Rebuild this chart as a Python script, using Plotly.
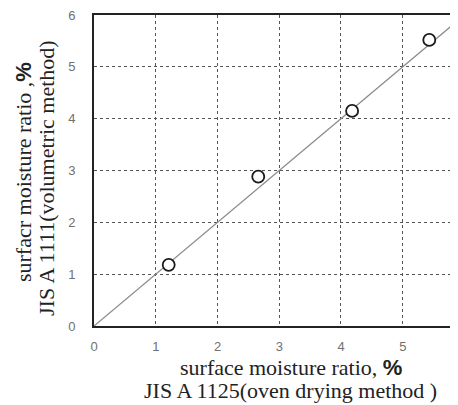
import plotly.graph_objects as go

# Data
oven_drying = [1.21, 2.66, 4.18, 5.43]       # JIS A 1125 (x)
volumetric = [1.18, 2.88, 4.15, 5.52]        # JIS A 1111 (y)
line_x = [0, 6]
line_y = [0, 6]
tick_vals = [0, 1, 2, 3, 4, 5, 6]

SERIF = "Liberation Serif, Times New Roman, serif"
SANS = "Liberation Sans, Arial, sans-serif"

fig = go.Figure()
fig.add_trace(go.Scatter(x=line_x, y=line_y, mode="lines",
                         line=dict(color="#8c8c8c", width=1.3),
                         showlegend=False, hoverinfo="skip"))
fig.add_trace(go.Scatter(x=oven_drying, y=volumetric, mode="markers",
                         marker=dict(symbol="circle", size=12, color="white",
                                     line=dict(color="#1a1a1a", width=1.8)),
                         showlegend=False))

# page body has an 8px default margin, so the figure is 8px smaller
fig.update_layout(
    width=450, height=397,
    margin=dict(l=86, r=0, t=7, b=79),
    paper_bgcolor="white", plot_bgcolor="white",
    xaxis=dict(range=[0, 5.895], tickvals=tick_vals, showgrid=True,
               gridcolor="#555555", griddash="dot", gridwidth=1,
               showline=True, linecolor="#222222", linewidth=2, mirror=True,
               zeroline=False, ticks="", ticklabelstandoff=7,
               ticklabeloverflow="allow",
               tickfont=dict(family=SANS, size=13, color="#707070")),
    yaxis=dict(range=[0, 6], tickvals=tick_vals, showgrid=True,
               gridcolor="#555555", griddash="dot", gridwidth=1,
               showline=True, linecolor="#222222", linewidth=2, mirror=False,
               zeroline=False, ticks="", ticklabelstandoff=14,
               ticklabeloverflow="allow",
               tickfont=dict(family=SANS, size=13, color="#707070")),
)

pct = "<span style='font-family:Liberation Sans, Arial, sans-serif'><b>%</b></span>"
tfont = dict(family=SERIF, size=22, color="#222222")

fig.add_annotation(text="surface moisture ratio, " + pct, xref="x", yref="paper",
                   x=3.19, y=0, yanchor="middle", yshift=-41, showarrow=False, font=tfont)
fig.add_annotation(text="JIS A 1125(oven drying method )", xref="x", yref="paper",
                   x=3.19, y=0, yanchor="middle", yshift=-64, showarrow=False, font=tfont)
fig.add_annotation(text="surfacr moisture ratio ," + pct, xref="paper", yref="paper",
                   x=0, y=0.495, xanchor="center", xshift=-71, textangle=-90,
                   showarrow=False, font=tfont)
fig.add_annotation(text="JIS A 1111(volumetric method)", xref="paper", yref="paper",
                   x=0, y=0.476, xanchor="center", xshift=-47, textangle=-90,
                   showarrow=False, font=tfont)

fig.write_html("out.html")
